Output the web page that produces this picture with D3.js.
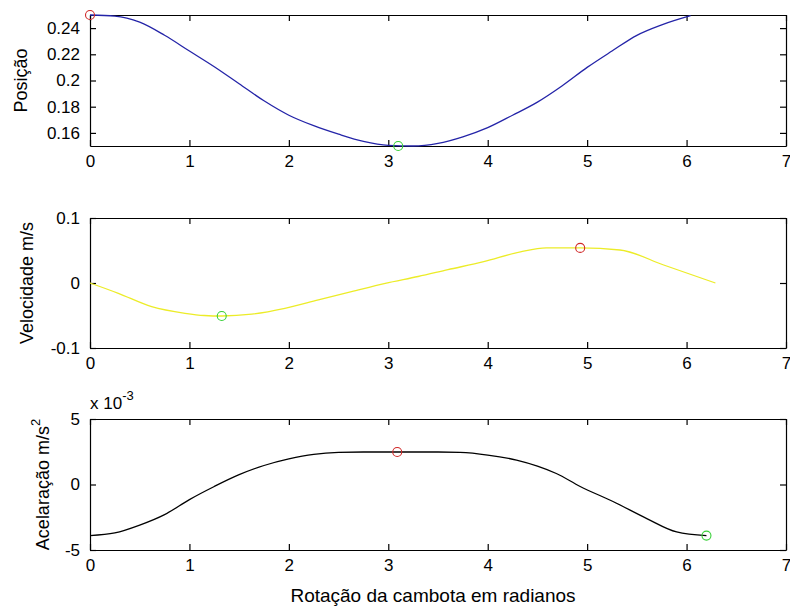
<!DOCTYPE html>
<html>
<head>
<meta charset="utf-8">
<script src="https://cdn.jsdelivr.net/npm/d3@7"></script>
<style>
  html, body { margin: 0; padding: 0; background: #fff; }
  svg { display: block; font-family: "Liberation Sans", Arial, sans-serif; }
</style>
</head>
<body>
<svg id="chart" width="790" height="611"></svg>
<script>
// Crank rotation (rad) vs. follower position, velocity and acceleration
const posX = [0, 0.25, 0.5, 0.75, 1.0, 1.25, 1.5, 1.75, 2.0, 2.25, 2.5, 2.75, 3.0, 3.25, 3.5, 3.75, 4.0, 4.25, 4.5, 4.75, 5.0, 5.25, 5.5, 5.75, 6.04];
const posY = [0.25, 0.2492, 0.2445, 0.2345, 0.2225, 0.2105, 0.1975, 0.1845, 0.1735, 0.1655, 0.159, 0.1535, 0.1505, 0.15, 0.152, 0.157, 0.164, 0.1735, 0.1835, 0.196, 0.21, 0.2225, 0.2345, 0.2425, 0.2495];

const velX = [0, 0.285, 0.62, 0.956, 1.15, 1.325, 1.627, 1.96, 2.297, 2.63, 2.97, 3.3, 3.6, 3.96, 4.33, 4.59, 4.93, 5.33, 5.77, 6.29];
const velY = [0, -0.0159, -0.0364, -0.0466, -0.05, -0.0508, -0.048, -0.039, -0.026, -0.0133, -0.0005, 0.01, 0.0205, 0.0328, 0.048, 0.054, 0.054, 0.0508, 0.0277, 0.0];

// acceleration in units of 1e-3 m/s^2
const accX = [0, 0.25, 0.5, 0.75, 1.0, 1.25, 1.5, 1.75, 2.0, 2.25, 2.5, 2.75, 3.09, 3.5, 3.72, 4.0, 4.29, 4.5, 4.69, 4.93, 5.26, 5.6, 5.9, 6.2];
const accY = [-3.9, -3.7, -3.1, -2.3, -1.15, -0.15, 0.75, 1.45, 1.95, 2.3, 2.45, 2.48, 2.48, 2.48, 2.45, 2.25, 1.86, 1.4, 0.84, -0.15, -1.3, -2.6, -3.62, -3.9];

// highlighted points: [x, y]
const posMax = [0, 0.25], posMin = [3.1, 0.15];
const velMax = [4.93, 0.054], velMin = [1.325, -0.0508];
const accMax = [3.09, 2.48], accMin = [6.2, -3.9];

const xTicks = [0, 1, 2, 3, 4, 5, 6, 7];
const posTicks = [0.16, 0.18, 0.2, 0.22, 0.24];
const velTicks = [-0.1, 0, 0.1];
const accTicks = [-5, 0, 5];

const svg = d3.select("#chart");
svg.append("rect").attr("width", 790).attr("height", 611).attr("fill", "#fff");

const left = 90, right = 786;
const x = d3.scaleLinear().domain([0, 7]).range([left, right]);

const panels = [
  { top: 15, bottom: 146, domain: [0.15, 0.25], ticks: posTicks, xs: posX, ys: posY,
    color: "#2424a8", label: "Posição", labelX: 21, max: posMax, min: posMin },
  { top: 218, bottom: 348, domain: [-0.1, 0.1], ticks: velTicks, xs: velX, ys: velY,
    color: "#ecec28", label: "Velocidade m/s", labelX: 27, max: velMax, min: velMin },
  { top: 419, bottom: 550, domain: [-5, 5], ticks: accTicks, xs: accX, ys: accY,
    color: "#000", label: "Acelaração m/s", sup: "2", labelX: 43, max: accMax, min: accMin }
];

const tickFont = 17;

panels.forEach((p, i) => {
  const y = d3.scaleLinear().domain(p.domain).range([p.bottom, p.top]);
  const g = svg.append("g");

  // axes with inward ticks on all four sides
  const bottomAxis = d3.axisBottom(x).tickValues(xTicks).tickFormat(String)
    .tickSize(-6).tickSizeOuter(0).tickPadding(9);
  const topAxis = d3.axisTop(x).tickValues(xTicks).tickFormat("")
    .tickSize(-6).tickSizeOuter(0);
  const leftAxis = d3.axisLeft(y).tickValues(p.ticks).tickFormat(String)
    .tickSize(-6).tickSizeOuter(0).tickPadding(10);
  const rightAxis = d3.axisRight(y).tickValues(p.ticks).tickFormat("")
    .tickSize(-6).tickSizeOuter(0);

  const gb = g.append("g").attr("transform", `translate(0,${p.bottom})`).call(bottomAxis);
  const gt = g.append("g").attr("transform", `translate(0,${p.top})`).call(topAxis);
  const gl = g.append("g").attr("transform", `translate(${left},0)`).call(leftAxis);
  const gr = g.append("g").attr("transform", `translate(${right},0)`).call(rightAxis);

  [gb, gt, gl, gr].forEach(a => {
    a.selectAll("path.domain").attr("stroke", "#000").attr("stroke-width", 1.2);
    a.selectAll(".tick line").attr("stroke", "#000").attr("stroke-width", 1.2);
    a.selectAll(".tick text").attr("fill", "#000").attr("font-size", tickFont)
      .attr("font-family", "Liberation Sans, Arial, sans-serif");
  });

  // the curve
  const pts = p.xs.map((v, k) => [v, p.ys[k]]);
  g.append("path").datum(pts)
    .attr("fill", "none").attr("stroke", p.color).attr("stroke-width", 1.3)
    .attr("d", d3.line().curve(d3.curveMonotoneX).x(d => x(d[0])).y(d => y(d[1])));

  // max / min markers
  g.append("circle").attr("cx", x(p.max[0])).attr("cy", y(p.max[1])).attr("r", 4.5)
    .attr("fill", "none").attr("stroke", "#d02828").attr("stroke-width", 1.1);
  g.append("circle").attr("cx", x(p.min[0])).attr("cy", y(p.min[1])).attr("r", 4.5)
    .attr("fill", "none").attr("stroke", "#38d038").attr("stroke-width", 1.1);

  // y label
  const cy = (p.top + p.bottom) / 2;
  const t = g.append("text")
    .attr("transform", `translate(${p.labelX},${cy}) rotate(-90)`)
    .attr("text-anchor", "middle").attr("dominant-baseline", "central")
    .attr("font-size", 18).attr("fill", "#000")
    .text(p.label);
  if (p.sup) {
    t.append("tspan").attr("dy", -8).attr("font-size", 13).text(p.sup);
  }
});

// exponent note on the acceleration axis
const ex = svg.append("text").attr("x", 90).attr("y", 409)
  .attr("font-size", 17).attr("fill", "#000").text("x 10");
ex.append("tspan").attr("dy", -9).attr("font-size", 13).text("-3");

// x label
svg.append("text").attr("x", (left + right) / 2 - 5).attr("y", 602)
  .attr("text-anchor", "middle").attr("font-size", 19).attr("fill", "#000")
  .text("Rotação da cambota em radianos");
</script>
</body>
</html>
